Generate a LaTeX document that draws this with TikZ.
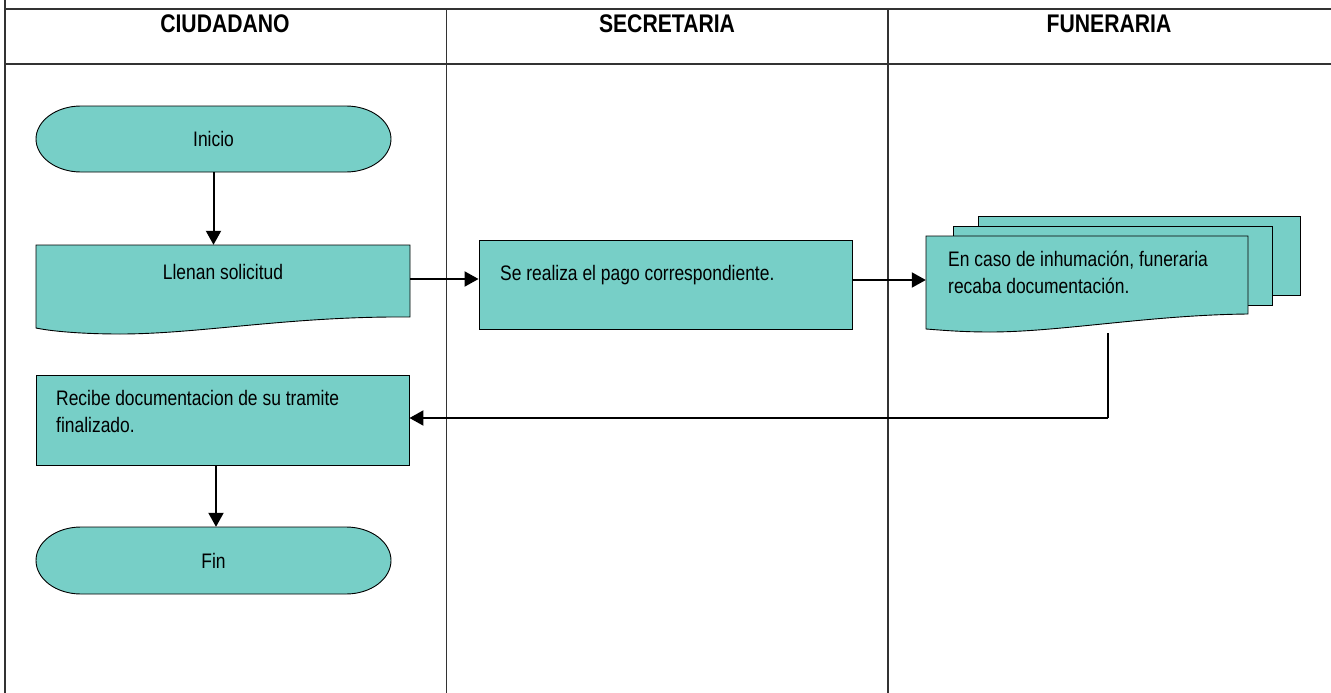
\documentclass[tikz,border=0pt]{standalone}
\usepackage{fontspec}
\setmainfont{Liberation Sans}[FakeStretch=0.83]
\usetikzlibrary{arrows.meta}
\definecolor{tealfill}{RGB}{119,207,199}
\begin{document}
\begin{tikzpicture}[x=1pt,y=-1pt,
  lane/.style={line width=1.3pt, draw=black!80},
  shp/.style={draw=black, line width=0.9pt, fill=tealfill},
  geom/.style={draw=none, inner sep=0pt, rectangle},
  flow/.style={line width=2pt, -{Triangle[length=14pt,width=15pt]}},
  plain/.style={line width=2pt},
  body/.style={font=\fontsize{21}{27}\selectfont, inner sep=0pt},
  head/.style={font=\fontsize{25.5}{28}\selectfont\bfseries, inner sep=0pt}]
\useasboundingbox (0,0) rectangle (1331,693);
% lanes
\draw[lane] (5,0) -- (5,693);
\draw[lane] (5,9) -- (1331,9);
\draw[lane] (5,64) -- (1331,64);
\draw[lane] (446.5,9) -- (446.5,693);
\draw[lane] (888,9) -- (888,693);
\node[head, anchor=base] (h1) at (225,33) {CIUDADANO};
\node[head, anchor=base] (h2) at (667,33) {SECRETARIA};
\node[head, anchor=base] (h3) at (1109,33) {FUNERARIA};
% Inicio terminator
\draw[shp] (81,106) -- (346,106) .. controls (371,106) and (391,121) .. (391,139)
  .. controls (391,157) and (371,172) .. (346,172) -- (81,172)
  .. controls (56,172) and (36,157) .. (36,139) .. controls (36,121) and (56,106) .. (81,106) -- cycle;
\node[geom, minimum width=355pt, minimum height=66pt] (inicio) at (213.5,139) {};
\node[body, anchor=base] (tinicio) at (213.5,146) {Inicio};
% Llenan solicitud document
\draw[shp] (36,245) -- (410,245) -- (410,317)
  .. controls (290,316) and (200,334) .. (120,334)
  .. controls (80,334) and (50,331) .. (36,328) -- cycle;
\node[geom, minimum width=374pt, minimum height=72pt] (llenan) at (223,281) {};
\node[body, anchor=base] (tllenan) at (223,279) {Llenan solicitud};
% Pago box
\node[shp, geom, draw=black, minimum width=373pt, minimum height=89pt] (pago) at (665.5,284.5) {};
\node[body, anchor=base west] (tpago) at (500,280) {Se realiza el pago correspondiente.};
% Multi-document
\draw[shp] (978,216) rectangle (1300,295);
\draw[shp] (953,226) rectangle (1272,305);
\draw[shp] (926,236) -- (1248,236) -- (1248,314)
  .. controls (1150,315) and (1060,332) .. (990,332)
  .. controls (960,332) and (940,330) .. (926,329) -- cycle;
\node[geom, minimum width=322pt, minimum height=97pt] (docs) at (1087,284.5) {};
\node[body, anchor=base west, align=left] (tdocs) at (948,293) {En caso de inhumación, funeraria\\recaba documentación.};
% Recibe box
\node[shp, geom, draw=black, minimum width=373pt, minimum height=90pt] (recibe) at (222.5,420) {};
\node[body, anchor=base west, align=left] (trecibe) at (56,432) {Recibe documentacion de su tramite\\finalizado.};
% Fin terminator
\draw[shp] (81,527) -- (346,527) .. controls (371,527) and (391,542) .. (391,560.5)
  .. controls (391,579) and (371,594) .. (346,594) -- (81,594)
  .. controls (56,594) and (36,579) .. (36,560.5) .. controls (36,542) and (56,527) .. (81,527) -- cycle;
\node[geom, minimum width=355pt, minimum height=67pt] (fin) at (213.5,560.5) {};
\node[body, anchor=base] (tfin) at (213.5,568) {Fin};
% connectors
\coordinate (ret) at (1108,418);
\draw[flow] (inicio.south) -- (llenan.north -| inicio.south);
\draw[flow] (llenan.east |- 0,279) -- (pago.west |- 0,279);
\draw[flow] (pago.east |- 0,280) -- (docs.west |- 0,280);
\draw[plain] (ret |- docs.south) -- (ret);
\draw[flow] (ret) -- (recibe.east |- ret);
\draw[flow] (recibe.south -| 216,0) -- (fin.north -| 216,0);
\end{tikzpicture}
\end{document}
